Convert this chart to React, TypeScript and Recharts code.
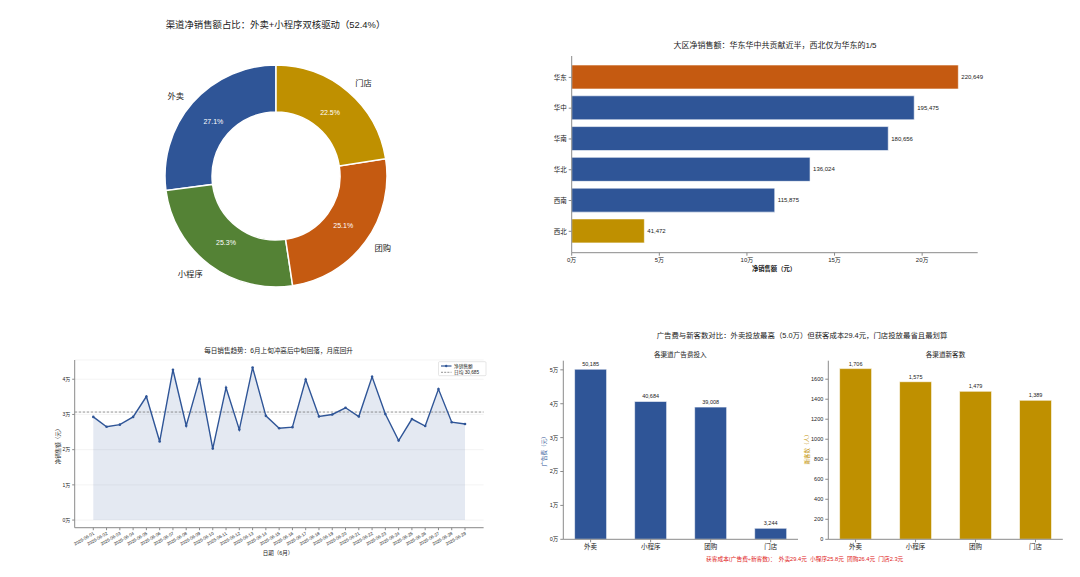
import {
  PieChart, Pie, Cell, BarChart, Bar, XAxis, YAxis, LabelList,
  ComposedChart, Area, Line, CartesianGrid, ReferenceLine,
} from 'recharts'

const FONT = '"Liberation Sans", "Noto Sans CJK SC", sans-serif'
const BLUE = '#2F5597'
const ORANGE = '#C55A11'
const GOLD = '#BF9000'
const GREEN = '#548235'
const AXIS = '#8a8a8a'
const INK = '#1a1a1a'

// 渠道占比
const CHANNELS = ['外卖', '小程序', '团购', '门店']
const CHANNEL_SHARE = [27.1, 25.3, 25.1, 22.5]

// 大区净销售额
const REGIONS = ['华东', '华中', '华南', '华北', '西南', '西北']
const REGION_SALES = [220649, 195475, 180656, 136024, 115875, 41472]
const REGION_TICKS = [0, 50000, 100000, 150000, 200000]

// 每日销售
const DATES = [
  '2025-06-01', '2025-06-02', '2025-06-03', '2025-06-04', '2025-06-05', '2025-06-06',
  '2025-06-07', '2025-06-08', '2025-06-09', '2025-06-10', '2025-06-11', '2025-06-12',
  '2025-06-13', '2025-06-14', '2025-06-15', '2025-06-16', '2025-06-17', '2025-06-18',
  '2025-06-19', '2025-06-20', '2025-06-21', '2025-06-22', '2025-06-23', '2025-06-24',
  '2025-06-25', '2025-06-26', '2025-06-27', '2025-06-28', '2025-06-29',
]
const DAILY_SALES = [
  29300, 26500, 27100, 29300, 35100, 22300, 42700, 26800, 40100, 20300,
  37600, 25700, 43300, 29600, 26100, 26400, 39900, 29400, 30000, 31900,
  29400, 40700, 30100, 22600, 28700, 26700, 37200, 27800, 27300,
]
const DAILY_AVG = 30685
const DAILY_TICKS = [0, 10000, 20000, 30000, 40000]

// 广告费 / 新客
const AD_SPEND = [50185, 40684, 39008, 3244]
const NEW_CUSTOMERS = [1706, 1575, 1479, 1389]
const CAC = [29.4, 25.8, 26.4, 2.3]
const AD_TICKS = [0, 10000, 20000, 30000, 40000, 50000]
const CUST_TICKS = [0, 200, 400, 600, 800, 1000, 1200, 1400, 1600]

const PIE_COLORS = [BLUE, GREEN, ORANGE, GOLD]
const regionColor = (i: number) => (i === 0 ? ORANGE : i === REGIONS.length - 1 ? GOLD : BLUE)

const wan = (v: number) => `${v / 10000}万`
const thousands = (v: number) => v.toLocaleString('en-US')

const pieData = CHANNELS.map((name, i) => ({ name, value: CHANNEL_SHARE[i] }))
const regionData = REGIONS.map((region, i) => ({ region, sales: REGION_SALES[i] }))
const dailyData = DATES.map((date, i) => ({ idx: i, date, sales: DAILY_SALES[i] }))
const adData = CHANNELS.map((channel, i) => ({ channel, spend: AD_SPEND[i] }))
const custData = CHANNELS.map((channel, i) => ({ channel, count: NEW_CUSTOMERS[i] }))

const RAD = Math.PI / 180

function PieLabel(props: any) {
  const { cx, cy, midAngle, outerRadius, percent, name } = props
  const c = Math.cos(-midAngle * RAD)
  const s = Math.sin(-midAngle * RAD)
  const rIn = outerRadius * 0.75
  const rOut = outerRadius * 1.1
  return (
    <g>
      <text x={cx + rIn * c} y={cy + rIn * s} fill="#fff" fontSize={7} fontFamily={FONT}
        textAnchor="middle" dominantBaseline="central">
        {(percent * 100).toFixed(1)}%
      </text>
      <text x={cx + rOut * c} y={cy + rOut * s} fill={INK} fontSize={8.3} fontFamily={FONT}
        textAnchor={c < 0 ? 'end' : 'start'} dominantBaseline="central">
        {name}
      </text>
    </g>
  )
}

function DateTick(props: any) {
  const { x, y, payload } = props
  return (
    <g transform={`translate(${x},${y})`}>
      <text x={0} y={0} dy={2.5} textAnchor="end" transform="rotate(-30)"
        fontSize={4.4} fill="#222" fontFamily={FONT}>
        {DATES[payload.value]}
      </text>
    </g>
  )
}

function T({ x, y, size, children, color = INK, anchor = 'middle', rotate, weight }: any) {
  return (
    <text x={x} y={y} fontSize={size} fill={color} textAnchor={anchor} dominantBaseline="central"
      fontFamily={FONT} fontWeight={weight} style={{ whiteSpace: 'pre' }}
      transform={rotate ? `rotate(${rotate} ${x} ${y})` : undefined}>
      {children}
    </text>
  )
}

const abs = (left: number, top: number) => ({ position: 'absolute' as const, left, top })
const tickStyle = (size: number) => ({ fontSize: size, fill: '#222', fontFamily: FONT })

export default function App() {
  return (
    <div style={{ position: 'absolute', left: 0, top: 0, width: 1080, height: 577, background: '#fff', fontFamily: FONT, overflow: 'hidden' }}>
      {/* 渠道占比环形图 */}
      <div style={abs(0, 0)}>
        <PieChart width={540} height={310} margin={{ top: 0, right: 0, bottom: 0, left: 0 }}>
          <Pie data={pieData} dataKey="value" nameKey="name" cx={276} cy={176}
            innerRadius={64} outerRadius={111} startAngle={90} endAngle={450}
            stroke="#fff" strokeWidth={1.5} label={PieLabel} labelLine={false}
            isAnimationActive={false}>
            {pieData.map((d, i) => <Cell key={d.name} fill={PIE_COLORS[i]} />)}
          </Pie>
        </PieChart>
      </div>

      {/* 大区净销售额 */}
      <div style={abs(500, 30)}>
        <BarChart layout="vertical" width={500} height={260} data={regionData}
          margin={{ top: 26, right: 22.3, left: 0, bottom: 0 }}>
          <XAxis type="number" domain={[0, 231700]} ticks={REGION_TICKS} tickFormatter={wan}
            allowDataOverflow height={37.3} tick={tickStyle(6)} tickSize={3}
            axisLine={{ stroke: AXIS }} tickLine={{ stroke: AXIS }} />
          <YAxis type="category" dataKey="region" width={71.7} padding={{ top: 6, bottom: 6 }}
            tick={tickStyle(6.5)} tickSize={3} axisLine={{ stroke: AXIS }} tickLine={{ stroke: AXIS }} />
          <Bar dataKey="sales" barSize={24} stroke="#fff" strokeWidth={0.6} isAnimationActive={false}>
            {regionData.map((d, i) => <Cell key={d.region} fill={regionColor(i)} />)}
            <LabelList dataKey="sales" position="right" offset={3} formatter={thousands as any}
              fontSize={6} fill="#222" fontFamily={FONT} />
          </Bar>
        </BarChart>
      </div>

      {/* 每日销售趋势 */}
      <div style={abs(0, 340)}>
        <ComposedChart width={500} height={230} data={dailyData}
          margin={{ top: 20, right: 16.4, left: 0, bottom: 0 }}>
          <CartesianGrid vertical={false} stroke="#ececec" strokeWidth={0.6} />
          <XAxis type="number" dataKey="idx" domain={[-1.4, 29.4]} allowDataOverflow
            ticks={DATES.map((_, i) => i)} tick={<DateTick />} height={42.3} tickSize={2.5}
            interval={0} axisLine={{ stroke: AXIS }} tickLine={{ stroke: AXIS }} />
          <YAxis type="number" domain={[-2165, 45465]} allowDataOverflow ticks={DAILY_TICKS}
            tickFormatter={wan} width={74.7} tick={tickStyle(5)} tickSize={2.5}
            axisLine={{ stroke: AXIS }} tickLine={{ stroke: AXIS }} />
          <Area type="linear" dataKey="sales" baseValue={0} stroke="none" fill={BLUE}
            fillOpacity={0.13} isAnimationActive={false} />
          <ReferenceLine y={DAILY_AVG} stroke="#666" strokeWidth={0.7} strokeDasharray="2.5 1.5" />
          <Line type="linear" dataKey="sales" stroke={BLUE} strokeWidth={1.4}
            dot={{ r: 1.3, fill: BLUE, stroke: BLUE, strokeWidth: 0 }} activeDot={false}
            isAnimationActive={false} />
        </ComposedChart>
      </div>

      {/* 各渠道广告费投入 */}
      <div style={abs(520, 350)}>
        <BarChart width={290} height={210} data={adData}
          margin={{ top: 10.7, right: 12, left: 0, bottom: 0 }}>
          <XAxis dataKey="channel" height={20.7} padding={{ left: -2.7, right: -2.7 }}
            tick={tickStyle(6.5)} tickSize={3} axisLine={{ stroke: AXIS }} tickLine={{ stroke: AXIS }} />
          <YAxis type="number" domain={[0, 52694]} allowDataOverflow ticks={AD_TICKS}
            tickFormatter={wan} width={43.3} tick={tickStyle(5.5)} tickSize={3}
            axisLine={{ stroke: AXIS }} tickLine={{ stroke: AXIS }} />
          <Bar dataKey="spend" fill={BLUE} barSize={32} stroke="#fff" strokeWidth={0.6}
            isAnimationActive={false}>
            <LabelList dataKey="spend" position="top" offset={3} formatter={thousands as any}
              fontSize={5.5} fill="#222" fontFamily={FONT} />
          </Bar>
        </BarChart>
      </div>

      {/* 各渠道新客数 */}
      <div style={abs(800, 350)}>
        <BarChart width={280} height={210} data={custData}
          margin={{ top: 10.7, right: 17.2, left: 0, bottom: 0 }}>
          <XAxis dataKey="channel" height={20.7} padding={{ left: -2.7, right: -2.7 }}
            tick={tickStyle(6.5)} tickSize={3} axisLine={{ stroke: AXIS }} tickLine={{ stroke: AXIS }} />
          <YAxis type="number" domain={[0, 1785]} allowDataOverflow ticks={CUST_TICKS}
            width={28.3} tick={tickStyle(5.5)} tickSize={3}
            axisLine={{ stroke: AXIS }} tickLine={{ stroke: AXIS }} />
          <Bar dataKey="count" fill={GOLD} barSize={32} stroke="#fff" strokeWidth={0.6}
            isAnimationActive={false}>
            <LabelList dataKey="count" position="top" offset={3} formatter={thousands as any}
              fontSize={5.5} fill="#222" fontFamily={FONT} />
          </Bar>
        </BarChart>
      </div>

      {/* 标题与文字 */}
      <svg width={1080} height={577} style={{ position: 'absolute', left: 0, top: 0, pointerEvents: 'none' }}>
        <T x={275.5} y={24} size={9.4}>渠道净销售额占比：外卖+小程序双核驱动（52.4%）</T>

        <T x={775} y={45.7} size={8}>大区净销售额：华东华中共贡献近半，西北仅为华东的1/5</T>
        <T x={774} y={268.7} size={6.3} weight="bold">净销售额（元）</T>

        <T x={278.5} y={350.7} size={6.6}>每日销售趋势：6月上旬冲高后中旬回落，月底回升</T>
        <T x={278} y={552.7} size={5.5}>日期（6月）</T>
        <T x={57.5} y={445} size={5.5} rotate={-90}>净销售额（元）</T>
        <rect x={438.5} y={361.7} width={47.5} height={14} fill="#fff" stroke="#ccc" strokeWidth={0.5} rx={1} />
        <line x1={441} y1={366} x2={451.5} y2={366} stroke={BLUE} strokeWidth={1.2} />
        <circle cx={446.2} cy={366} r={1.2} fill={BLUE} />
        <T x={454} y={366} size={4.7} anchor="start">净销售额</T>
        <line x1={441} y1={372.3} x2={451.5} y2={372.3} stroke="#666" strokeWidth={0.7} strokeDasharray="2 1.2" />
        <T x={454} y={372.3} size={4.7} anchor="start">{`日均 ${thousands(DAILY_AVG)}`}</T>

        <T x={802} y={335} size={7.4}>广告费与新客数对比：外卖投放最高（5.0万）但获客成本29.4元，门店投放最省且最划算</T>
        <T x={680.3} y={354.3} size={6.6}>各渠道广告费投入</T>
        <T x={945.5} y={354.3} size={6.6}>各渠道新客数</T>
        <T x={544} y={450} size={5.5} rotate={-90} color={BLUE}>广告费（元）</T>
        <T x={807.3} y={448} size={5.5} rotate={-90} color={GOLD}>新客数（人）</T>
        <T x={804.7} y={559} size={5.7} color="#e02020">
          {`获客成本(广告费÷新客数)：  ${CHANNELS.map((c, i) => `${c}${CAC[i]}元`).join('  ')}`}
        </T>
      </svg>
    </div>
  )
}
